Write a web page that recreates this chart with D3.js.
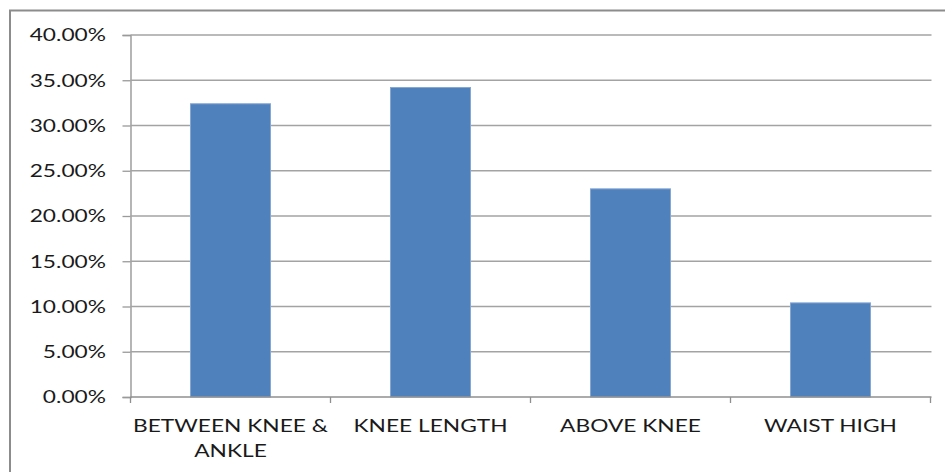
<!DOCTYPE html>
<html>
<head>
<meta charset="utf-8">
<script src="https://cdn.jsdelivr.net/npm/d3@7"></script>
<style>
  html, body { margin: 0; padding: 0; background: #fff; }
  svg { display: block; }
  text { font-family: Lato, "Open Sans", sans-serif; fill: #1a1a1a; }
</style>
</head>
<body>
<svg id="chart" width="945" height="472"></svg>
<script>
// Skirt length preference shares
const categories = [["BETWEEN KNEE &", "ANKLE"], ["KNEE LENGTH"], ["ABOVE KNEE"], ["WAIST HIGH"]];
const shares = [0.324, 0.342, 0.230, 0.104];
const yTicks = [0, 0.05, 0.10, 0.15, 0.20, 0.25, 0.30, 0.35, 0.40];

const svg = d3.select("#chart");
const W = 945, H = 472;
const plot = { left: 130.5, right: 930.5, top: 35, bottom: 397 };
const fontSize = 17.5, stretch = 1.3;

// Outer chart frame (only top and left edges fall inside the view)
svg.append("path")
  .attr("d", `M10,${H + 2}V10.5H${W + 2}`)
  .attr("fill", "none").attr("stroke", "#8c8c8c").attr("stroke-width", 2);

const keys = categories.map(c => c.join(" "));
const x = d3.scaleBand().domain(keys).range([plot.left, plot.right])
  .paddingInner(0.6).paddingOuter(0.3);
const y = d3.scaleLinear().domain([0, 0.4]).range([plot.bottom, plot.top]);

// Horizontal gridlines + value axis
const yAxis = d3.axisLeft(y).tickValues(yTicks).tickSize(8).tickFormat(() => "");
const gy = svg.append("g").attr("transform", `translate(${plot.left},0)`).call(yAxis);
gy.select(".domain").attr("stroke", "#8f8f8f").attr("stroke-width", 1.3);
gy.selectAll(".tick line").attr("stroke", "#9a9a9a").attr("stroke-width", 1.3);

svg.append("g").selectAll("line").data(yTicks.filter(d => d > 0)).join("line")
  .attr("x1", plot.left).attr("x2", plot.right + 1)
  .attr("y1", d => y(d)).attr("y2", d => y(d))
  .attr("stroke", "#a3a3a3").attr("stroke-width", 1.4);

// Value labels, horizontally stretched
const fmt = d3.format(".2%");
svg.append("g").selectAll("text").data(yTicks).join("text")
  .attr("transform", d => `translate(106,${y(d)}) scale(${stretch},1)`)
  .attr("text-anchor", "end").attr("dy", "0.36em")
  .attr("font-size", fontSize)
  .text(d => fmt(d));

// Bars
svg.append("g").selectAll("rect").data(shares).join("rect")
  .attr("x", (d, i) => x(keys[i]))
  .attr("width", x.bandwidth())
  .attr("y", d => y(d))
  .attr("height", d => y(0) - y(d))
  .attr("fill", "#4f81bd")
  .attr("stroke", "#86a7d4").attr("stroke-width", 1);

// Category axis
const step = x.step();
const catTicks = d3.range(keys.length + 1).map(i => plot.left + i * step);
svg.append("line")
  .attr("x1", plot.left).attr("x2", plot.right + 1)
  .attr("y1", plot.bottom).attr("y2", plot.bottom)
  .attr("stroke", "#8f8f8f").attr("stroke-width", 1.4);
svg.append("g").selectAll("line").data(catTicks).join("line")
  .attr("x1", d => d).attr("x2", d => d)
  .attr("y1", plot.bottom).attr("y2", plot.bottom + 6)
  .attr("stroke", "#8f8f8f").attr("stroke-width", 1.3);

const catG = svg.append("g").selectAll("text").data(categories).join("text")
  .attr("transform", (d, i) => `translate(${x(keys[i]) + x.bandwidth() / 2},432) scale(${stretch},1)`)
  .attr("text-anchor", "middle")
  .attr("font-size", fontSize);
catG.selectAll("tspan").data(d => d).join("tspan")
  .attr("x", 0).attr("y", (d, j) => j * 25)
  .text(d => d);
</script>
</body>
</html>
